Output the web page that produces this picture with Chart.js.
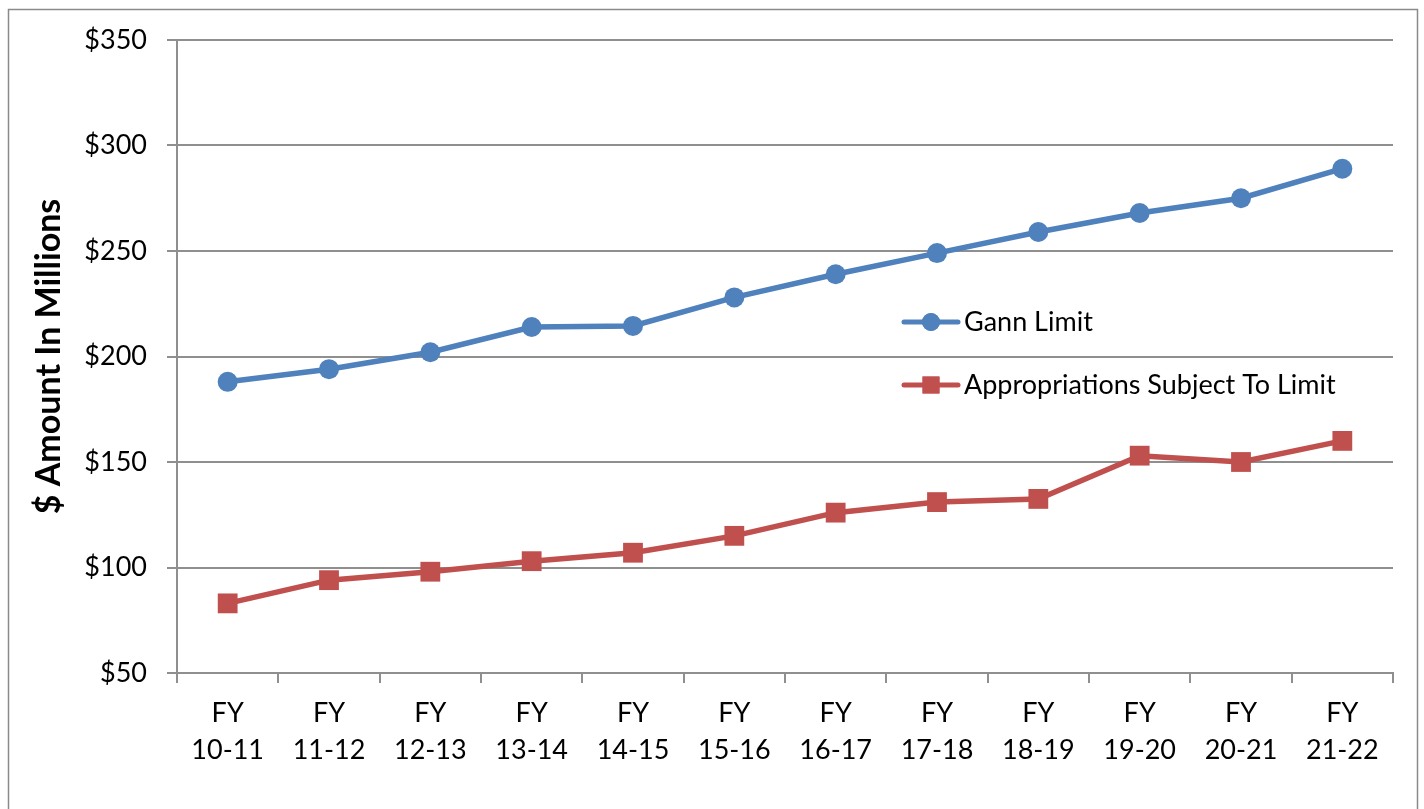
<!DOCTYPE html>
<html>
<head>
<meta charset="utf-8">
<script src="https://cdn.jsdelivr.net/npm/chart.js@4.4.1/dist/chart.umd.min.js"></script>
<style>
  html, body { margin: 0; padding: 0; background: #ffffff; }
  #wrap { position: relative; width: 1424px; height: 809px; }
</style>
</head>
<body>
<div id="wrap"><canvas id="c" width="1424" height="809"></canvas></div>
<script>
// Fiscal years on the category axis (two-line labels)
const fiscalYears = ['10-11', '11-12', '12-13', '13-14', '14-15', '15-16',
                     '16-17', '17-18', '18-19', '19-20', '20-21', '21-22'];

// $ millions
const gannLimit = [188, 194, 202, 214, 214.5, 228, 239, 249, 259, 268, 275, 289];
const appropriationsSubjectToLimit = [83, 94, 98, 103, 107, 115, 126, 131, 132.5, 153, 150, 160];

const yTickValues = [50, 100, 150, 200, 250, 300, 350];

const BLUE = '#4F81BD';
const RED = '#C0504D';
const GRID = '#8f8f8f';
const FONT = 'Lato, "Open Sans", "Liberation Sans", sans-serif';

// Gray frame around the whole chart
const framePlugin = {
  id: 'frame',
  beforeDraw(chart) {
    const ctx = chart.ctx;
    ctx.save();
    ctx.fillStyle = '#ffffff';
    ctx.fillRect(0, 0, chart.width, chart.height);
    ctx.strokeStyle = '#8a8a8a';
    ctx.lineWidth = 1.5;
    ctx.strokeRect(8.5, 9.5, 1409, 900);
    ctx.restore();
  }
};

// Legend drawn inside the plot area, right of centre
const innerLegend = {
  id: 'innerLegend',
  afterDatasetsDraw(chart) {
    const ctx = chart.ctx;
    const a = chart.chartArea;
    const x0 = a.left + 727;
    const entries = [
      { text: 'Gann Limit', color: BLUE, style: 'circle', y: a.top + 282 },
      { text: 'Appropriations Subject To Limit', color: RED, style: 'rect', y: a.top + 345 }
    ];
    ctx.save();
    entries.forEach(e => {
      ctx.strokeStyle = e.color;
      ctx.lineWidth = 5;
      ctx.lineCap = 'round';
      ctx.beginPath();
      ctx.moveTo(x0, e.y);
      ctx.lineTo(x0 + 54, e.y);
      ctx.stroke();
      ctx.fillStyle = e.color;
      Chart.helpers.drawPoint(ctx, { pointStyle: e.style, radius: e.style === 'rect' ? 12 : 9, rotation: 0, borderWidth: 0 }, x0 + 27, e.y);
      ctx.fill();
      ctx.fillStyle = '#000000';
      ctx.font = '27px ' + FONT;
      ctx.textBaseline = 'middle';
      ctx.textAlign = 'left';
      ctx.fillText(e.text, x0 + 60, e.y);
    });
    ctx.restore();
  }
};

new Chart(document.getElementById('c'), {
  type: 'line',
  data: {
    labels: fiscalYears.map(fy => ['FY', fy]),
    datasets: [
      {
        label: 'Gann Limit',
        data: gannLimit,
        borderColor: BLUE,
        backgroundColor: BLUE,
        borderWidth: 5.5,
        pointStyle: 'circle',
        pointRadius: 10,
        pointBorderWidth: 0,
        tension: 0
      },
      {
        label: 'Appropriations Subject To Limit',
        data: appropriationsSubjectToLimit,
        borderColor: RED,
        backgroundColor: RED,
        borderWidth: 5.5,
        pointStyle: 'rect',
        pointRadius: 14,
        pointBorderWidth: 0,
        tension: 0
      }
    ]
  },
  options: {
    responsive: false,
    animation: false,
    layout: { padding: { top: 40, right: 31, left: 0, bottom: 0 } },
    plugins: {
      legend: { display: false },
      tooltip: { enabled: false }
    },
    scales: {
      x: {
        offset: true,
        grid: {
          offset: true,
          drawOnChartArea: false,
          drawTicks: true,
          tickLength: 10,
          color: GRID,
          lineWidth: 2
        },
        border: { display: true, color: GRID, width: 2 },
        ticks: {
          color: '#000000',
          font: { family: FONT, size: 27, lineHeight: 1.4 },
          padding: 11,
          maxRotation: 0,
          autoSkip: false
        },
        afterFit(scale) { scale.height = 136; }
      },
      y: {
        min: 50,
        max: 350,
        afterBuildTicks(scale) { scale.ticks = yTickValues.map(v => ({ value: v })); },
        grid: {
          color: GRID,
          lineWidth: 2,
          drawTicks: true,
          tickLength: 10
        },
        border: { display: true, color: GRID, width: 2 },
        ticks: {
          color: '#000000',
          font: { family: FONT, size: 27 },
          padding: 20,
          callback: v => '$' + v
        },
        title: {
          display: true,
          text: '$ Amount In Millions',
          color: '#000000',
          font: { family: FONT, size: 34, weight: 'bold', lineHeight: 1.2 },
          padding: { top: 29, bottom: 0 }
        },
        afterFit(scale) { scale.width = 177; }
      }
    }
  },
  plugins: [framePlugin, innerLegend]
});
</script>
</body>
</html>
